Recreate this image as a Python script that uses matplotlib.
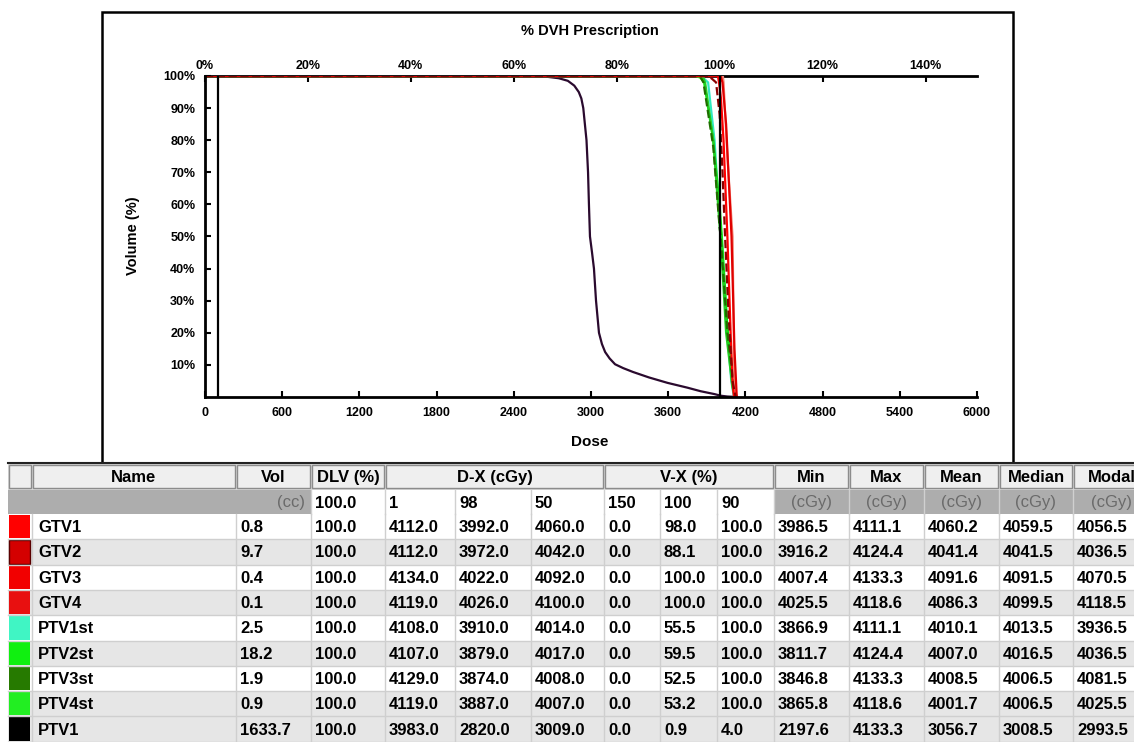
"""DVH plot with dose statistics table (matplotlib only)."""

import matplotlib

matplotlib.use("Agg")
import matplotlib.pyplot as plt
from matplotlib.patches import Rectangle

# ── data ───────────────────────────────────────────────────────────────────

names = ["GTV1", "GTV2", "GTV3", "GTV4", "PTV1st", "PTV2st", "PTV3st", "PTV4st", "PTV1"]
swatch_colors = ["#ff0000", "#d40000", "#f20000", "#e81010", "#40f5c4",
                 "#10f010", "#267a00", "#22ee22", "#000000"]
vol_cc = [0.8, 9.7, 0.4, 0.1, 2.5, 18.2, 1.9, 0.9, 1633.7]
dlv_pct = [100.0, 100.0, 100.0, 100.0, 100.0, 100.0, 100.0, 100.0, 100.0]
d1 = [4112.0, 4112.0, 4134.0, 4119.0, 4108.0, 4107.0, 4129.0, 4119.0, 3983.0]
d98 = [3992.0, 3972.0, 4022.0, 4026.0, 3910.0, 3879.0, 3874.0, 3887.0, 2820.0]
d50 = [4060.0, 4042.0, 4092.0, 4100.0, 4014.0, 4017.0, 4008.0, 4007.0, 3009.0]
v150 = [0.0, 0.0, 0.0, 0.0, 0.0, 0.0, 0.0, 0.0, 0.0]
v100 = [98.0, 88.1, 100.0, 100.0, 55.5, 59.5, 52.5, 53.2, 0.9]
v90 = [100.0, 100.0, 100.0, 100.0, 100.0, 100.0, 100.0, 100.0, 4.0]
dmin = [3986.5, 3916.2, 4007.4, 4025.5, 3866.9, 3811.7, 3846.8, 3865.8, 2197.6]
dmax = [4111.1, 4124.4, 4133.3, 4118.6, 4111.1, 4124.4, 4133.3, 4118.6, 4133.3]
dmean = [4060.2, 4041.4, 4091.6, 4086.3, 4010.1, 4007.0, 4008.5, 4001.7, 3056.7]
dmedian = [4059.5, 4041.5, 4091.5, 4099.5, 4013.5, 4016.5, 4006.5, 4006.5, 3008.5]
dmodal = [4056.5, 4036.5, 4070.5, 4118.5, 3936.5, 4036.5, 4081.5, 4025.5, 2993.5]
dlv_level = "100.0"
dx_levels = ["1", "98", "50"]
vx_levels = ["150", "100", "90"]

# DVH curves (dose in cGy, volume in %)
gtv1_dose = [0, 3986, 3995, 4010, 4030, 4060, 4085, 4100, 4111]
gtv1_vol = [100, 100, 98, 93, 80, 50, 20, 5, 0]
gtv2_dose = [0, 3916, 3972, 4000, 4020, 4042, 4070, 4100, 4124]
gtv2_vol = [100, 100, 98, 88, 72, 50, 25, 5, 0]
gtv3_dose = [0, 4007, 4022, 4050, 4092, 4115, 4133]
gtv3_vol = [100, 100, 98, 85, 50, 15, 0]
gtv4_dose = [0, 4025, 4030, 4060, 4100, 4112, 4119]
gtv4_vol = [100, 100, 98, 75, 50, 12, 0]
ptv1st_dose = [0, 3830, 3870, 3910, 3960, 4000, 4014, 4050, 4090, 4111]
ptv1st_vol = [100, 100, 99.5, 98, 80, 55.5, 50, 25, 5, 0]
ptv2st_dose = [0, 3812, 3850, 3879, 3950, 4000, 4017, 4060, 4100, 4124]
ptv2st_vol = [100, 100, 99.5, 98, 80, 59.5, 50, 22, 4, 0]
ptv3st_dose = [0, 3847, 3874, 3950, 4000, 4008, 4060, 4110, 4133]
ptv3st_vol = [100, 100, 98, 78, 52.5, 50, 20, 3, 0]
ptv4st_dose = [0, 3866, 3887, 3950, 4000, 4007, 4050, 4100, 4119]
ptv4st_vol = [100, 100, 98, 80, 53.2, 50, 20, 3, 0]
ptv1_dose = [0, 2197, 2530, 2650, 2750, 2820, 2870, 2905, 2925, 2940, 2965,
             2977, 2984, 2992, 3008, 3023, 3039, 3062, 3085, 3110, 3145, 3187,
             3250, 3326, 3450, 3595, 3750, 3852, 3960, 4008, 4060, 4133]
ptv1_vol = [100, 100, 100, 99.8, 99.3, 98.5, 97, 95, 93, 90, 80,
            70, 60, 50, 45, 40, 30, 20, 16.5, 14, 12, 10.2,
            9, 7.8, 6.1, 4.4, 2.9, 1.8, 0.9, 0.4, 0.15, 0]

# reference dose markers (vertical black lines)
marker_doses = [100, 4000]
prescription_dose = 4000.0

dose_ticks = [0, 600, 1200, 1800, 2400, 3000, 3600, 4200, 4800, 5400, 6000]
pct_ticks = [0, 20, 40, 60, 80, 100, 120, 140]
vol_ticks = [10, 20, 30, 40, 50, 60, 70, 80, 90, 100]

# ── layout helpers ─────────────────────────────────────────────────────────

W, H = 1134, 742


def _px_box(x0, y0, x1, y1):
    return [x0 / W, 1 - y1 / H, (x1 - x0) / W, (y1 - y0) / H]


fig = plt.figure(figsize=(W / 100, H / 100), dpi=100)

bg = fig.add_axes([0, 0, 1, 1], zorder=0)
bg.set_xlim(0, W)
bg.set_ylim(H, 0)
bg.axis("off")

# outer frame round the chart
bg.add_patch(Rectangle((102, 12), 911, 451, fill=False, lw=1.8, ec="black"))

# ── DVH chart ──────────────────────────────────────────────────────────────

ax = fig.add_axes(_px_box(205, 76, 977, 397), zorder=1)
curves = [
    (ptv1_dose, ptv1_vol, "#2a0a2e", "-"),
    (ptv1st_dose, ptv1st_vol, "#30e8c0", "-"),
    (ptv2st_dose, ptv2st_vol, "#10e010", "-"),
    (ptv4st_dose, ptv4st_vol, "#22cc22", "-"),
    (ptv3st_dose, ptv3st_vol, "#1f6e00", "--"),
    (gtv4_dose, gtv4_vol, "#f08070", "-"),
    (gtv1_dose, gtv1_vol, "#ff0000", "-"),
    (gtv3_dose, gtv3_vol, "#e00000", "-"),
    (gtv2_dose, gtv2_vol, "#8a0000", "--"),
]
for dose, vol, color, ls in curves:
    ax.plot(dose, vol, color=color, lw=1.6, ls=ls)
for d in marker_doses:
    ax.plot([d, d], [0, 100], color="black", lw=1.6)

ax.set_xlim(0, 6000)
ax.set_ylim(0, 100)
ax.spines["right"].set_visible(False)
ax.spines["top"].set_visible(False)
for side in ("left", "bottom"):
    ax.spines[side].set_linewidth(2)

tick_font = dict(family="Liberation Sans", weight="bold", size=9)
ax.set_xticks(dose_ticks)
ax.set_xticklabels([str(t) for t in dose_ticks], **tick_font)
ax.set_yticks(vol_ticks)
ax.set_yticklabels([f"{t}%" for t in vol_ticks], **tick_font)
ax.tick_params(direction="in", length=4, width=1.5)
ax.tick_params(axis="x", pad=7)
ax.tick_params(axis="y", pad=7)

sec = ax.secondary_xaxis(
    "top",
    functions=(lambda d: d / prescription_dose * 100, lambda p: p * prescription_dose / 100),
)
sec.set_xticks(pct_ticks)
sec.set_xticklabels([f"{t}%" for t in pct_ticks], **tick_font)
sec.tick_params(direction="in", length=4, width=1.5, pad=3)
sec.spines["top"].set_linewidth(2)

label_font = dict(family="Liberation Sans", weight="bold")
bg.text(590, 31, "% DVH Prescription", ha="center", va="center", size=10.5, **label_font)
bg.text(590, 442, "Dose", ha="center", va="center", size=11, **label_font)
bg.text(133, 236, "Volume (%)", ha="center", va="center", rotation=90, size=10.5, **label_font)

# ── statistics table ───────────────────────────────────────────────────────

col_x = [8, 32, 236, 311, 385, 455, 531, 604, 660, 717, 774, 849, 924, 999, 1073, 1150]
top = 463
h1 = (463, 490)
h2 = (490, 514)
row_h = 25.3
cell_font = dict(family="Liberation Sans", size=12)

# header row 1: raised buttons
header_groups = [
    (0, 1, ""), (1, 2, "Name"), (2, 3, "Vol"), (3, 4, "DLV (%)"),
    (4, 7, "D-X (cGy)"), (7, 10, "V-X (%)"), (10, 11, "Min"), (11, 12, "Max"),
    (12, 13, "Mean"), (13, 14, "Median"), (14, 15, "Modal"),
]
bg.add_patch(Rectangle((col_x[0], h1[0]), col_x[-1] - col_x[0], h1[1] - h1[0],
                       fc="#d8d8d8", ec="none"))
for c0, c1, label in header_groups:
    x0, x1 = col_x[c0] + 1, col_x[c1] - 1
    bg.add_patch(Rectangle((x0, h1[0] + 2), x1 - x0, h1[1] - h1[0] - 4,
                           fc="#efefef", ec="#8c8c8c", lw=1))
    if label:
        bg.text((x0 + x1) / 2, (h1[0] + h1[1]) / 2 + 1, label, ha="center", va="center",
                weight="bold", **cell_font)
bg.plot([col_x[0], col_x[-1]], [top, top], color="#222222", lw=1.5)

# header row 2: units and thresholds
bg.add_patch(Rectangle((col_x[0], h2[0]), col_x[3] - col_x[0], h2[1] - h2[0],
                       fc="#adadad", ec="none"))
bg.add_patch(Rectangle((col_x[10], h2[0]), col_x[-1] - col_x[10], h2[1] - h2[0],
                       fc="#adadad", ec="none"))
bg.add_patch(Rectangle((col_x[3], h2[0]), col_x[10] - col_x[3], h2[1] - h2[0],
                       fc="white", ec="none"))
ymid2 = (h2[0] + h2[1]) / 2 + 1
bg.text(col_x[3] - 6, ymid2, "(cc)", ha="right", va="center", color="#6a6a6a", **cell_font)
for k, lab in enumerate([dlv_level] + dx_levels + vx_levels):
    bg.text(col_x[3 + k] + 4, ymid2, lab, ha="left", va="center", weight="bold", **cell_font)
for k in range(10, 15):
    bg.text((col_x[k] + col_x[k + 1]) / 2, ymid2, "(cGy)", ha="center", va="center",
            color="#6a6a6a", **cell_font)
for k in range(3, 15):
    bg.plot([col_x[k], col_x[k]], [h2[0], h2[1]], color="#d0d0d0", lw=1)

# data rows
columns = [vol_cc, dlv_pct, d1, d98, d50, v150, v100, v90, dmin, dmax, dmean, dmedian, dmodal]
for i, name in enumerate(names):
    y0 = h2[1] + i * row_h
    fill = "#e6e6e6" if (i % 2 == 1 or i == len(names) - 1) else "white"
    bg.add_patch(Rectangle((col_x[0], y0), col_x[-1] - col_x[0], row_h, fc=fill, ec="none"))
    edge = "#5a0000" if name == "GTV2" else "none"
    bg.add_patch(Rectangle((col_x[0] + 1, y0 + 1), col_x[1] - col_x[0] - 3, row_h - 2,
                           fc=swatch_colors[i], ec=edge, lw=1))
    ymid = y0 + row_h / 2 + 1
    bg.text(col_x[1] + 6, ymid, name, ha="left", va="center", weight="bold", **cell_font)
    for k, col in enumerate(columns):
        bg.text(col_x[2 + k] + 4, ymid, f"{col[i]:.1f}", ha="left", va="center",
                weight="bold", **cell_font)
    bg.plot([col_x[0], col_x[-1]], [y0 + row_h, y0 + row_h], color="#cfcfcf", lw=1)

for k in range(1, 15):
    bg.plot([col_x[k], col_x[k]], [h2[1], H], color="#cfcfcf", lw=1)

fig.savefig("out.png", dpi=100)
